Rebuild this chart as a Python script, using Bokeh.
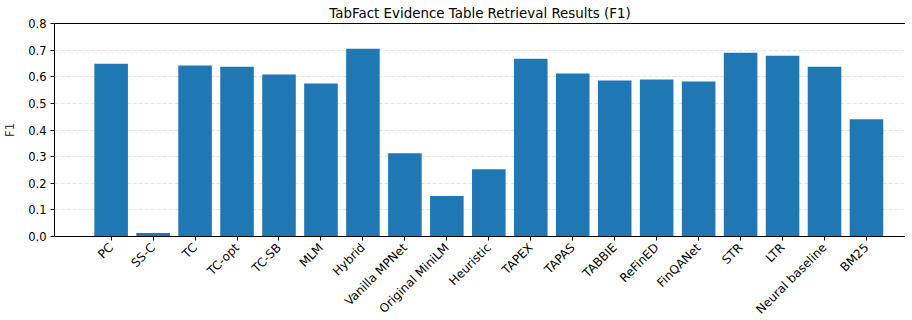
import math
from bokeh.plotting import figure
from bokeh.models import FixedTicker, Range1d, LinearAxis
from bokeh.embed import file_html
from bokeh.resources import INLINE

methods = ["PC", "SS-C", "TC", "TC-opt", "TC-SB", "MLM", "Hybrid", "Vanilla MPNet",
           "Original MiniLM", "Heuristic", "TAPEX", "TAPAS", "TABBIE", "ReFinED",
           "FinQANet", "STR", "LTR", "Neural baseline", "BM25"]
f1_scores = [0.649, 0.013, 0.642, 0.638, 0.608, 0.575, 0.705, 0.313,
             0.152, 0.253, 0.668, 0.612, 0.586, 0.590,
             0.582, 0.690, 0.679, 0.638, 0.440]
y_ticks = [0.0, 0.1, 0.2, 0.3, 0.4, 0.5, 0.6, 0.7, 0.8]

positions = list(range(len(methods)))
n = len(methods)
FONT = "DejaVu Sans"

p = figure(frame_width=851, frame_height=213, output_backend="svg", toolbar_location=None,
           x_range=Range1d(-1.35, 18.93), y_range=Range1d(0, 0.8),
           title="TabFact Evidence Table Retrieval Results (F1)",
           min_border_left=0, min_border_right=0, min_border_top=0, min_border_bottom=0)

p.vbar(x=positions, top=f1_scores, width=0.8, color="#1f77b4", line_color=None)

p.title.align = "center"
p.title.offset = 10
p.title.text_font = FONT
p.title.text_font_size = "13.4px"
p.title.text_font_style = "normal"
p.title.text_color = "#000000"
p.title.standoff = 6

p.outline_line_color = None
p.background_fill_color = "white"
p.border_fill_color = "white"

top_axis = LinearAxis(ticker=FixedTicker(ticks=[]), major_label_text_font_size="0px",
                      axis_line_color="#000000", major_tick_line_color=None,
                      minor_tick_line_color=None)
p.add_layout(top_axis, "above")

p.xgrid.grid_line_color = None
p.ygrid.grid_line_color = "#cccccc"
p.ygrid.grid_line_alpha = 0.7
p.ygrid.grid_line_dash = "4 2"
p.ygrid.grid_line_width = 0.8

xa = p.below[0]
ya = p.left[0]
xa.ticker = FixedTicker(ticks=positions)
xa.major_label_overrides = {i: m for i, m in enumerate(methods)}
xa.major_label_orientation = math.pi / 4
ya.ticker = FixedTicker(ticks=y_ticks)
ya.major_label_overrides = {t: f"{t:.1f}" for t in y_ticks}
ya.axis_label = "F1"

for ax in (xa, ya):
    ax.axis_line_color = "#000000"
    ax.major_tick_line_color = "#000000"
    ax.major_tick_out = 4
    ax.major_tick_in = 0
    ax.minor_tick_line_color = None
    ax.major_label_text_font = FONT
    ax.major_label_text_color = "#000000"
    ax.axis_label_text_font = FONT
    ax.axis_label_text_font_size = "11.5px"
    ax.axis_label_text_font_style = "normal"
    ax.axis_label_standoff = 8
    ax.major_label_standoff = 4

xa.major_label_text_font_size = "12px"
xa.major_label_standoff = 5
ya.major_label_text_font_size = "11.5px"

open("out.html", "w").write(file_html(p, INLINE))
